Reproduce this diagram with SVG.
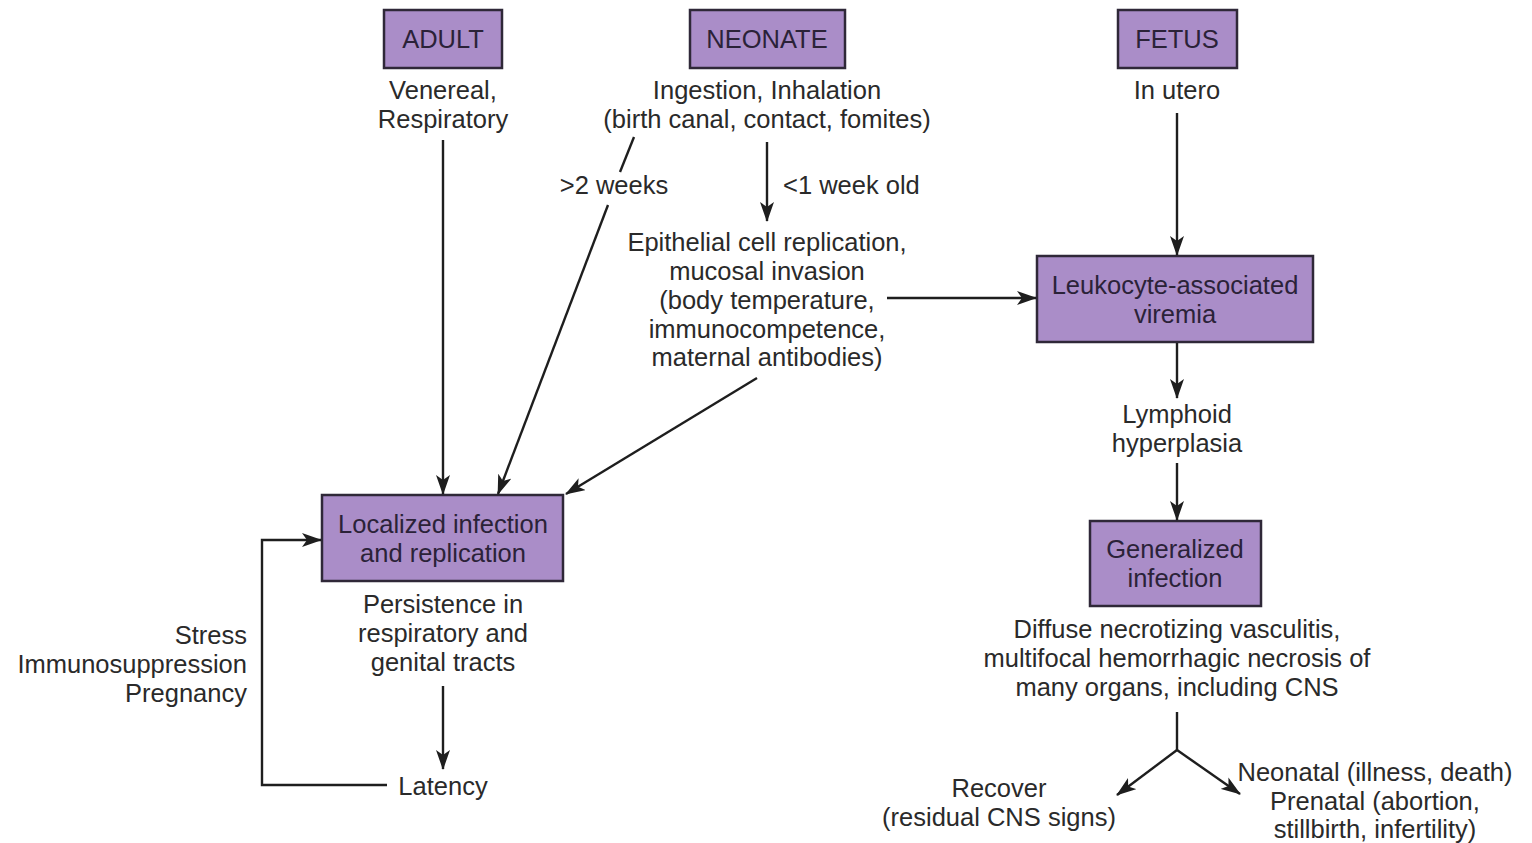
<svg xmlns="http://www.w3.org/2000/svg" width="1532" height="843" viewBox="0 0 1532 843">
<style>
.box{fill:#aa8dc8;stroke:#2f2838;stroke-width:2.5}
.bt{font-family:"Liberation Sans",Arial,sans-serif;font-size:25.5px;fill:#2b2238;text-anchor:middle}
.t{font-family:"Liberation Sans",Arial,sans-serif;font-size:25.5px;fill:#2a2a2a;text-anchor:middle}
.r{text-anchor:end}
.s{text-anchor:start}
.ln{fill:none;stroke:#1e1e1e;stroke-width:2.4}
</style>
<defs>
<marker id="ah" markerWidth="20" markerHeight="14" refX="19" refY="7" orient="auto" markerUnits="userSpaceOnUse">
<path d="M0,0 L20,7 L0,14 L5,7 z" fill="#1e1e1e"/>
</marker>
</defs>
<rect width="1532" height="843" fill="#fff"/>
<g id="adult"><rect class="box" x="384" y="10" width="118" height="58"/><text class="bt" x="443" y="48">ADULT</text></g>
<g id="neonate"><rect class="box" x="690" y="10" width="155" height="58"/><text class="bt" x="767" y="48">NEONATE</text></g>
<g id="fetus"><rect class="box" x="1118" y="10" width="119" height="58"/><text class="bt" x="1177" y="48">FETUS</text></g>
<g id="viremia"><rect class="box" x="1037" y="256" width="276" height="86"/><text class="bt" x="1175" y="294">Leukocyte-associated</text><text class="bt" x="1175" y="323">viremia</text></g>
<g id="localized"><rect class="box" x="322" y="495" width="241" height="86"/><text class="bt" x="443" y="533">Localized infection</text><text class="bt" x="443" y="562">and replication</text></g>
<g id="generalized"><rect class="box" x="1090" y="521" width="171" height="85"/><text class="bt" x="1175" y="558">Generalized</text><text class="bt" x="1175" y="587">infection</text></g>
<g id="adult-route"><text class="t" x="443" y="99">Venereal,</text><text class="t" x="443" y="128">Respiratory</text></g>
<g id="neonate-route"><text class="t" x="767" y="99">Ingestion, Inhalation</text><text class="t" x="767" y="128">(birth canal, contact, fomites)</text></g>
<g id="fetus-route"><text class="t" x="1177" y="99">In utero</text></g>
<g id="epithelial"><text class="t" x="767" y="251">Epithelial cell replication,</text><text class="t" x="767" y="280">mucosal invasion</text><text class="t" x="767" y="309">(body temperature,</text><text class="t" x="767" y="338">immunocompetence,</text><text class="t" x="767" y="366">maternal antibodies)</text></g>
<g id="lymphoid"><text class="t" x="1177" y="423">Lymphoid</text><text class="t" x="1177" y="452">hyperplasia</text></g>
<g id="persistence"><text class="t" x="443" y="613">Persistence in</text><text class="t" x="443" y="642">respiratory and</text><text class="t" x="443" y="671">genital tracts</text></g>
<g id="stress"><text class="t r" x="247" y="644">Stress</text><text class="t r" x="247" y="673">Immunosuppression</text><text class="t r" x="247" y="702">Pregnancy</text></g>
<g id="latency"><text class="t" x="443" y="795">Latency</text></g>
<g id="diffuse"><text class="t" x="1177" y="638">Diffuse necrotizing vasculitis,</text><text class="t" x="1177" y="667">multifocal hemorrhagic necrosis of</text><text class="t" x="1177" y="696">many organs, including CNS</text></g>
<g id="recover"><text class="t" x="999" y="797">Recover</text><text class="t" x="999" y="826">(residual CNS signs)</text></g>
<g id="outcome"><text class="t" x="1375" y="781">Neonatal (illness, death)</text><text class="t" x="1375" y="810">Prenatal (abortion,</text><text class="t" x="1375" y="838">stillbirth, infertility)</text></g>
<g id="connectors">
<line class="ln" x1="443" y1="140" x2="443" y2="494" marker-end="url(#ah)"/>
<line class="ln" x1="634" y1="137" x2="620" y2="172"/>
<line class="ln" x1="608" y1="205" x2="498" y2="494" marker-end="url(#ah)"/>
<text class="t" x="614" y="194">&gt;2 weeks</text>
<line class="ln" x1="767" y1="142" x2="767" y2="221" marker-end="url(#ah)"/>
<text class="t s" x="783" y="194">&lt;1 week old</text>
<line class="ln" x1="887" y1="298" x2="1036" y2="298" marker-end="url(#ah)"/>
<line class="ln" x1="757" y1="378" x2="566" y2="494" marker-end="url(#ah)"/>
<line class="ln" x1="1177" y1="113" x2="1177" y2="255" marker-end="url(#ah)"/>
<line class="ln" x1="1177" y1="343" x2="1177" y2="398" marker-end="url(#ah)"/>
<line class="ln" x1="1177" y1="463" x2="1177" y2="520" marker-end="url(#ah)"/>
<line class="ln" x1="443" y1="686" x2="443" y2="769" marker-end="url(#ah)"/>
<polyline class="ln" points="387,785 262,785 262,540 321,540" marker-end="url(#ah)"/>
<line class="ln" x1="1177" y1="712" x2="1177" y2="750"/>
<line class="ln" x1="1177" y1="750" x2="1117" y2="795" marker-end="url(#ah)"/>
<line class="ln" x1="1177" y1="750" x2="1240" y2="794" marker-end="url(#ah)"/>
</g>
</svg>
